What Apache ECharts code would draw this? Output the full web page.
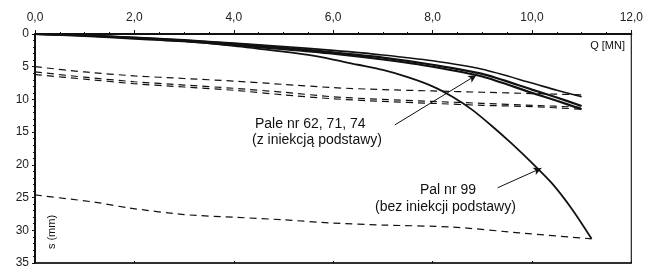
<!DOCTYPE html>
<html>
<head>
<meta charset="utf-8">
<script src="https://cdn.jsdelivr.net/npm/echarts@6/dist/echarts.min.js"></script>
<style>
html,body{margin:0;padding:0;background:#fff;}
#c{width:646px;height:273px;}
</style>
</head>
<body>
<div id="c"></div>
<script>
// Load Q [MN] and settlement s [mm]
const xTicks = [0, 2, 4, 6, 8, 10, 12];
const yTicks = [0, 5, 10, 15, 20, 25, 30, 35];

// Pale nr 62, 71, 74 (z iniekcją podstawy) - loading curves
const qPaleA = [0, 1, 2, 3, 4, 5, 6, 7, 8, 9, 10, 10.5, 11];
const sPaleA = [0, 0.2, 0.5, 0.9, 1.4, 1.9, 2.5, 3.2, 4.1, 5.4, 7.5, 8.6, 9.6];
const qPaleB = [0, 1, 2, 3, 4, 5, 6, 7, 8, 9, 10, 10.5, 11];
const sPaleB = [0, 0.2, 0.6, 1.0, 1.5, 2.1, 2.8, 3.6, 4.7, 6.1, 8.5, 9.7, 11.0];
const qPaleC = [0, 1, 2, 3, 4, 5, 6, 7, 8, 9, 10, 10.5, 11];
const sPaleC = [0, 0.3, 0.7, 1.1, 1.7, 2.3, 3.0, 3.9, 5.0, 6.5, 9.0, 10.2, 11.5];

// Pal nr 99 (bez iniekcji podstawy) - loading curve
const qPal99 = [0, 1, 2, 3, 4, 5, 5.5, 6, 6.5, 7, 7.5, 8, 8.4, 8.8, 9.2, 9.6, 10.0, 10.4, 10.8, 11.2];
const sPal99 = [0, 0.2, 0.6, 1.1, 1.8, 2.7, 3.2, 3.9, 4.7, 5.5, 6.6, 8.0, 9.6, 11.6, 14.1, 16.8, 19.7, 22.8, 26.7, 31.3];

// Dashed curves
const qDashA = [0, 1, 2, 3, 4, 5, 6, 7, 8, 9, 10, 11];
const sDashA = [5.0, 5.8, 6.4, 6.8, 7.2, 7.7, 8.2, 8.5, 8.7, 8.9, 9.1, 9.3];
const qDashB = [0, 1, 2, 3, 4, 5, 6, 7, 8, 9, 10, 11];
const sDashB = [5.8, 6.6, 7.3, 7.8, 8.3, 8.9, 9.6, 10.0, 10.3, 10.6, 10.9, 11.2];
const qDashC = [0, 1, 2, 3, 4, 5, 6, 7, 8, 9, 10, 11];
const sDashC = [6.2, 6.9, 7.6, 8.1, 8.6, 9.3, 9.9, 10.3, 10.6, 10.9, 11.1, 11.5];
const qDashD = [0, 1.2, 1.9, 3, 4, 5, 6, 7, 8.4, 9.75, 11.2];
const sDashD = [24.6, 25.7, 26.6, 27.6, 28.0, 28.4, 28.9, 29.2, 29.5, 30.4, 31.3];

// Annotation arrows (data coordinates: [Q, s])
const arrowPaleFrom = [7.24, 13.9], arrowPaleTo = [8.88, 6.3];
const arrow99From = [9.31, 23.5], arrow99To = [10.19, 20.5];

const labelPale = ['Pale nr 62, 71, 74', '(z iniekcją podstawy)'];
const label99 = ['Pal nr 99', '(bez iniekcji podstawy)'];
const xName = 'Q [MN]';
const yName = 's (mm)';

function pairs(q, s) { return q.map((v, i) => [v, s[i]]); }

const FONT = '"Liberation Sans", Arial, sans-serif';
const chart = echarts.init(document.getElementById('c'), null, {renderer: 'canvas'});

function solid(name, q, s, w) {
  return {name, type: 'line', data: pairs(q, s), showSymbol: false, symbol: 'none',
    lineStyle: {color: '#111', width: w}, smooth: 0.25, animation: false, z: 3};
}
function dashed(name, q, s) {
  return {name, type: 'line', data: pairs(q, s), showSymbol: false, symbol: 'none',
    lineStyle: {color: '#111', width: 1.2, type: [7, 5]}, smooth: 0.25, animation: false, z: 2};
}

const option = {
  animation: false,
  backgroundColor: '#fff',
  grid: {left: 35, right: 14, top: 34, bottom: 10, show: true, borderColor: '#222', borderWidth: 1.2, backgroundColor: 'transparent'},
  xAxis: [{
    type: 'value', position: 'top', min: xTicks[0], max: xTicks[xTicks.length - 1], interval: 2,
    axisLine: {show: true, onZero: false, lineStyle: {color: '#111', width: 2}},
    axisTick: {show: true, inside: false, length: 4, lineStyle: {color: '#111', width: 1}},
    minorTick: {show: true, splitNumber: 4, length: 2, lineStyle: {color: '#111', width: 1}},
    splitLine: {show: false},
    axisLabel: {margin: 10, color: '#222', fontFamily: FONT, fontSize: 12,
      formatter: v => v.toFixed(1).replace('.', ',')}
  }, {
    type: 'value', position: 'bottom', min: xTicks[0], max: xTicks[xTicks.length - 1], interval: 2,
    axisLine: {show: true, onZero: false, lineStyle: {color: '#111', width: 1.5}},
    axisTick: {show: true, inside: true, length: 2, lineStyle: {color: '#111'}},
    splitLine: {show: false}, axisLabel: {show: false}
  }],
  yAxis: [{
    type: 'value', inverse: true, min: yTicks[0], max: yTicks[yTicks.length - 1], interval: 5,
    axisLine: {show: true, onZero: false, lineStyle: {color: '#111', width: 2}},
    axisTick: {show: true, length: 3, lineStyle: {color: '#111'}},
    minorTick: {show: true, splitNumber: 5, length: 2, lineStyle: {color: '#111'}},
    splitLine: {show: false},
    axisLabel: {margin: 6, color: '#222', fontFamily: FONT, fontSize: 12}
  }],
  series: [
    dashed('dA', qDashA, sDashA),
    dashed('dB', qDashB, sDashB),
    dashed('dC', qDashC, sDashC),
    dashed('dD', qDashD, sDashD),
    solid('Pal A', qPaleA, sPaleA, 1.6),
    solid('Pal B', qPaleB, sPaleB, 2.2),
    solid('Pal C', qPaleC, sPaleC, 2.2),
    Object.assign(solid('Pal 99', qPal99, sPal99, 1.8), {
      markLine: {
        silent: true, symbol: ['none', 'arrow'], symbolSize: [6, 8], animation: false,
        lineStyle: {color: '#111', width: 1, type: 'solid'}, label: {show: false},
        data: [
          [{coord: arrowPaleFrom}, {coord: arrowPaleTo}],
          [{coord: arrow99From}, {coord: arrow99To}]
        ]
      }
    })
  ],
  graphic: [
    {type: 'text', left: 255, top: 117, style: {text: labelPale[0], font: '14px ' + FONT, fill: '#111'}},
    {type: 'text', left: 252, top: 133, style: {text: labelPale[1], font: '14px ' + FONT, fill: '#111'}},
    {type: 'text', left: 420, top: 183, style: {text: label99[0], font: '14px ' + FONT, fill: '#111'}},
    {type: 'text', left: 375, top: 200, style: {text: label99[1], font: '14px ' + FONT, fill: '#111'}},
    {type: 'text', right: 21, top: 40, style: {text: xName, font: '11px ' + FONT, fill: '#111'}},
    {type: 'text', x: 52, y: 232, rotation: Math.PI / 2,
      style: {text: yName, font: '11px ' + FONT, fill: '#111', align: 'center', verticalAlign: 'middle'}}
  ]
};
chart.setOption(option);
</script>
</body>
</html>
